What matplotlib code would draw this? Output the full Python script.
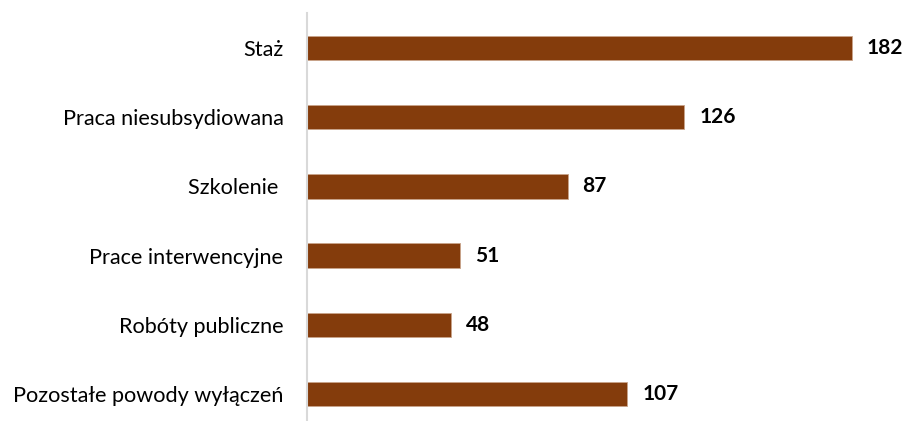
import matplotlib.pyplot as plt

# dane
kategorie = ['Staż', 'Praca niesubsydiowana', 'Szkolenie ', 'Prace interwencyjne',
             'Robóty publiczne', 'Pozostałe powody wyłączeń']
wartosci = [182, 126, 87, 51, 48, 107]

plt.rcParams['font.family'] = ['Lato', 'DejaVu Sans']

fig = plt.figure(figsize=(9.07, 4.21), dpi=100)
ax = fig.add_axes([307 / 907, 1 - 428.6 / 421, 600 / 907, 415.2 / 421])

poz = list(range(len(kategorie)))
ax.barh(poz, wartosci, height=0.35, color='#843C0C', edgecolor='#C9A48A', linewidth=0.6)

for y, v in zip(poz, wartosci):
    ax.text(v + 5, y, str(v), va='center', ha='left', fontsize=15, fontweight='bold')

ax.set_xlim(0, 600 / 2.995)
ax.set_ylim(5.5, -0.5)
ax.set_yticks(poz)
ax.set_yticklabels(kategorie, fontsize=15.6)
ax.tick_params(axis='y', length=0, pad=17)
ax.set_xticks([])

for s in ['top', 'right', 'bottom']:
    ax.spines[s].set_visible(False)
ax.spines['left'].set_color('#D9D9D9')
ax.spines['left'].set_linewidth(1.5)

fig.savefig('out.png', dpi=100)
